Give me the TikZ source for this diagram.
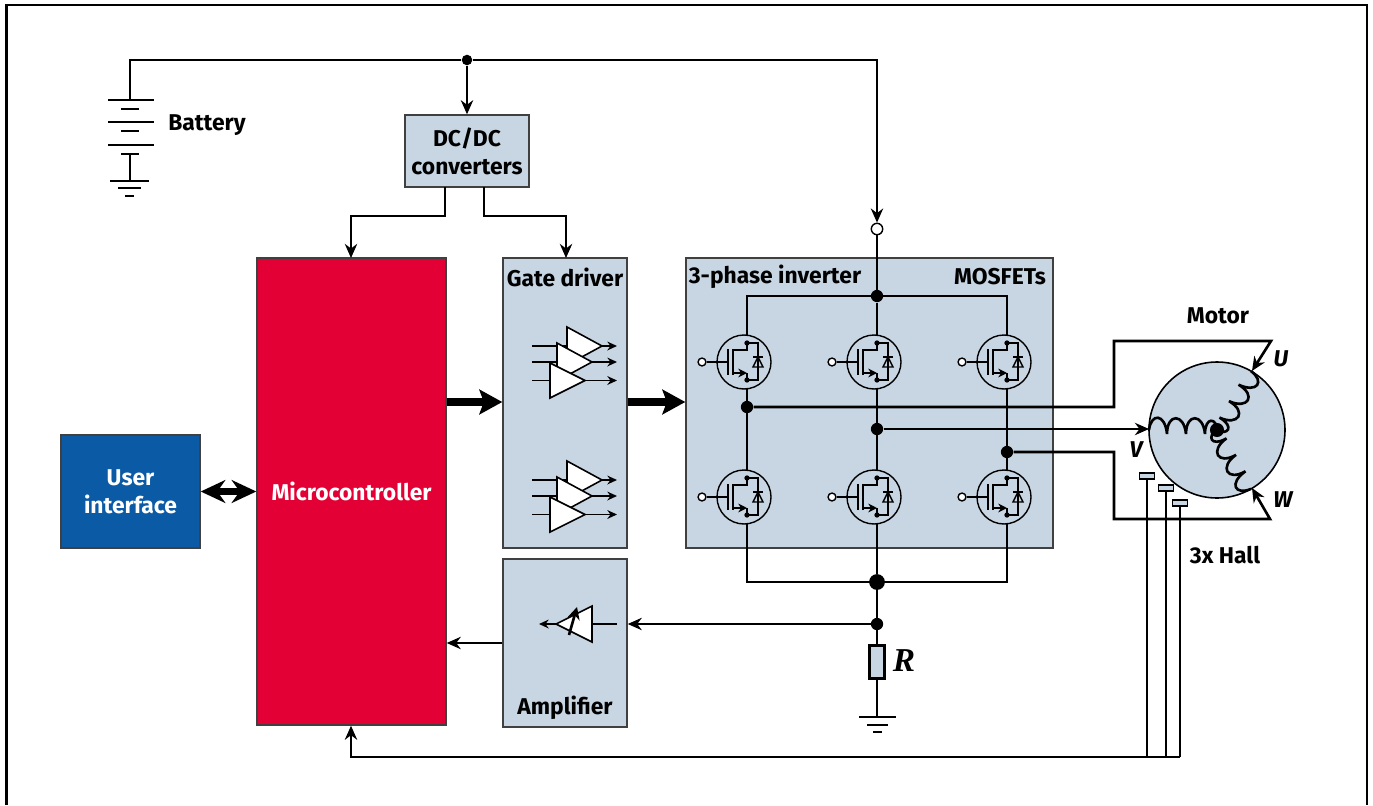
\documentclass[tikz,border=0pt]{standalone}
\usepackage{fontspec}
\setmainfont{Fira Sans}
\usepackage{xcolor}
\definecolor{boxblue}{HTML}{C8D6E4}
\definecolor{mcured}{HTML}{E30034}
\definecolor{uiblue}{HTML}{0A5AA5}
\usetikzlibrary{arrows.meta,calc,positioning}
\tikzset{>={Stealth[length=8pt,width=7pt]}}
\tikzset{
  wire/.style={line width=1.5pt},
  thin wire/.style={line width=0.9pt},
  fatarrow/.style={line width=4.4pt,-{Stealth[length=13pt,width=14pt,inset=2.5pt]}},
  block/.style={draw=black!75,line width=0.8pt,fill=boxblue,inner sep=0pt,font=\bfseries\fontsize{13}{16}\selectfont,align=center},
  label/.style={font=\bfseries\fontsize{13}{16}\selectfont,align=center,inner sep=0pt},
  philabel/.style={font=\bfseries\itshape\fontsize{13}{16}\selectfont,inner sep=0pt},
  dot/.style={circle,fill=black,inner sep=0pt,minimum size=#1},
  dot/.default=6pt,
  opendot/.style={circle,draw=black,fill=white,line width=0.8pt,inner sep=0pt,minimum size=#1},
  opendot/.default=4.5pt,
  buffer/.style={draw=black,fill=white,line width=0.9pt,line join=miter},
  winding/.style={line width=1.5pt},
  pics/mosfet/.style={code={
    \draw[line width=0.8pt] (0,0) circle[radius=27];
    \node[opendot] (-g) at (-42,0) {};
    \draw[line width=0.8pt] (-g) -- (-16,0);
    \draw[line width=0.8pt] (-16,-13) -- (-16,13);
    \draw[line width=0.8pt] (-11,-13) -- (-11,13);
    \draw[line width=0.8pt] (-11,-12) -- (3,-12) -- (3,-19) -- (14,-19) -- (14,18) -- (3,18) -- (3,11);
    \draw[line width=0.8pt,-{Stealth[length=5pt,width=5pt]}] (-11,11) -- (3,11);
    \draw[line width=0.8pt] (9,-5) -- (19,-5);
    \draw[line width=0.8pt] (14,-5) -- (9,5) -- (19,5) -- cycle;
    \node[dot=3pt] at (3,-19) {};
    \node[dot=3pt] at (3,18) {};
    \coordinate (-top) at (3,-27);
    \coordinate (-bot) at (3,27);
  }}
}
\begin{document}
\begin{tikzpicture}[x=0.02cm,y=-0.02cm]
\useasboundingbox (0,0) rectangle (1373,805);
\draw[line width=1.2pt] (6.5,805) -- (6.5,5) -- (1367,5) -- (1367,805);
% blocks
\node[block,fill=mcured,text=white,minimum width=189*0.02cm,minimum height=467*0.02cm] (mcu) at (351.5,491.5) {Microcontroller};
\node[block,fill=uiblue,text=white,minimum width=139*0.02cm,minimum height=113*0.02cm] (ui) at (130.5,491.5) {User\\interface};
\node[block,minimum width=124*0.02cm,minimum height=72*0.02cm] (dcdc) at (467,151) {DC/DC\\converters};
\node[block,minimum width=124*0.02cm,minimum height=290*0.02cm] (gate) at (565,403) {};
\node[block,minimum width=124*0.02cm,minimum height=168*0.02cm] (amp) at (565,643) {};
\node[block,minimum width=367*0.02cm,minimum height=290*0.02cm] (inv) at (869.5,403) {};
\node[label] at (565,277) {Gate driver};
\node[label] at (565,708) {Amplifier};
\node[label] at (775,277) {3-phase inverter};
\node[label] at (1000,277) {MOSFETs};
\node[label] at (207,125) {Battery};
\node[label] at (1218,316) {Motor};
\node[label] at (1225,555) {3x Hall};
% battery
\coordinate (bat) at (130,100);
\node[dot] (vbat) at (467,60) {};
\coordinate (vin) at (877,60);
\node[opendot=6.5pt] (vopen) at (877,229) {};
\draw[wire] (bat) -- (130,60) -- (vbat);
\draw[wire] (vbat) -- (vin) -- (877,190);
\draw[wire,->] (877,190) -- (vopen.north);
\draw[wire,->] (vbat) -- (dcdc.north);
\foreach \y/\a/\b in {100/108/154,109/121/139,122/108/154,131/121/139,145/108/154,154/121/139,181/110/149,188/118/141,196/125/134} {
\draw[wire] (\a,\y) -- (\b,\y);
};
\draw[wire] (130,154) -- (130,181);
% supply to logic
\draw[wire,->] (445,187) -- (445,216) -- (351,216) -- (351,258);
\draw[wire,->] (484,187) -- (484,216) -- (566,216) -- (566,258);
% bridge
\foreach \n/\x in {a/744,b/874,c/1004} {
\pic (\n hi) at (\x,362) {mosfet};
\pic (\n lo) at (\x,497) {mosfet};
};
\node[dot=7pt] (top) at (877,296) {};
\node[dot=7pt] (phu) at (747,407) {};
\node[dot=7pt] (phv) at (877,429) {};
\node[dot=7pt] (phw) at (1007,452) {};
\node[dot=9pt] (bot) at (877,582) {};
\draw[wire] (vopen) -- (top);
\draw[wire] (ahi-top) -- (747,296) -- (1007,296) -- (chi-top);
\draw[wire] (top) -- (bhi-top);
\draw[wire] (alo-bot) -- (747,582) -- (1007,582) -- (clo-bot);
\draw[wire] (blo-bot) -- (bot);
\foreach \n in {a,b,c} {
\draw[wire] (\n hi-bot) -- (\n lo-top);
};
% motor
\node[circle,draw=black,fill=boxblue,line width=0.9pt,minimum size=136*0.02cm,inner sep=0pt] (motor) at (1217,430) {};
\coordinate (mu) at (1252,371);
\coordinate (mv) at (1149,429);
\coordinate (mw) at (1252,488);
\foreach \r in {0,-120,120} {
\draw[winding,shift={(motor.center)},rotate=\r] (-68,0) .. controls (-66,-17) and (-52,-17) .. (-50,4) .. controls (-50,-17) and (-33,-17) .. (-31,4) .. controls (-31,-17) and (-14,-17) .. (-12,4) .. controls (-12,-14) and (0,-12) .. (0,0);
};
\node[dot=8pt] at (motor.center) {};
\draw[wire,->] (phu) -- (1114,407) -- (1114,341) -- (1271,341) -- (mu);
\draw[wire,->] (phv) -- (mv);
\draw[wire,->] (phw) -- (1114,452) -- (1114,519) -- (1270,519) -- (mw);
\node[philabel] at (1281,359) {U};
\node[philabel] at (1136,450) {V};
\node[philabel] at (1283,500) {W};
% hall sensors
\foreach \n/\x/\y in {1/1147/476,2/1166/488,3/1180/503} {
\node[draw=black,fill=boxblue,line width=1.1pt,minimum width=15*0.02cm,minimum height=6*0.02cm,inner sep=0pt] (hall\n) at (\x,\y) {};
};
\coordinate (fb) at (1180,757);
\draw[wire] (hall1.south) -- (1147,757);
\draw[wire] (hall2.south) -- (1166,757);
\draw[wire] (hall3.south) -- (fb);
\draw[wire,->] (fb) -- (351,757) -- (mcu.south -| 351,757);
% thick arrows
\draw[fatarrow] (mcu.east |- 0,402) -- (gate.west |- 0,402);
\draw[fatarrow] (gate.east |- 0,402) -- (inv.west |- 0,402);
\draw[line width=3.6pt,{Stealth[length=14pt,width=13pt]}-{Stealth[length=14pt,width=13pt]}] (ui.east) -- (mcu.west |- ui.east);
% gate driver
\foreach \d in {0,134} {
\begin{scope}[yshift=-\d*0.02cm]
\foreach \l/\t/\p/\m in {567/327/602/346,557/343/592/362,550/363/585/380.5} {
\draw[thin wire] (532,\m) -- (\l,\m);
\draw[thin wire,-{Stealth[length=5.5pt,width=5pt]}] (\p,\m) -- (617,\m);
\draw[buffer] (\l,\t) -- (\p,\m) -- (\l,2*\m-\t) -- cycle;
};
\end{scope}
};
% current sense
\node[dot=7pt] (sense) at (877,624) {};
\node[draw=black,fill=boxblue,line width=1.3pt,minimum width=15*0.02cm,minimum height=33*0.02cm,inner sep=0pt] (shunt) at (877,662) {};
\node[inner sep=0pt] at (904,661) {\fontsize{19}{20}\selectfont\setmainfont{Liberation Serif}\bfseries\itshape R};
\draw[wire] (bot) -- (shunt.north);
\draw[wire] (shunt.south) -- (877,717);
\foreach \y/\a/\b in {717/859/896,725/867/888,732/873/882} {
\draw[wire] (\a,\y) -- (\b,\y);
};
\draw[wire,->] (sense) -- (amp.east |- sense);
\draw[wire,->] (amp.west) -- (mcu.east |- amp.west);
\draw[thin wire] (592,624) -- (617,624);
\draw[thin wire,-{Stealth[length=5.5pt,width=5pt]}] (556,624) -- (539,624);
\draw[buffer] (592,606) -- (556,624) -- (592,642) -- cycle;
\draw[wire,-{Stealth[length=7pt,width=7pt]}] (569,635) -- (577,607);
\end{tikzpicture}
\end{document}
